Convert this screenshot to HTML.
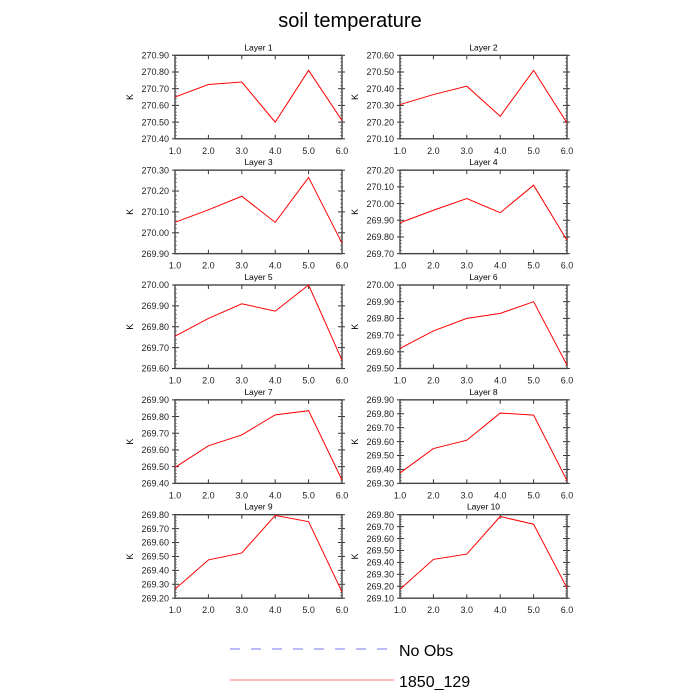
<!DOCTYPE html>
<html><head><meta charset="utf-8"><style>
html,body{margin:0;padding:0;background:#fff;}
svg{display:block;font-family:"Liberation Sans",sans-serif;}
</style></head><body>
<svg id="chart" width="700" height="700" viewBox="0 0 700 700">
<text x="350" y="27" text-anchor="middle" font-size="20" fill="#000">soil temperature</text>
<g>
<line x1="230" y1="649" x2="388" y2="649" stroke="#7777ee" stroke-width="1" stroke-dasharray="10,11"/>
<text x="399" y="656" font-size="16">No Obs</text>
<line x1="230" y1="680" x2="394" y2="680" stroke="#ff7777" stroke-width="1"/>
<text x="399" y="687" font-size="16">1850_129</text>
</g>
</svg>
<script>
const categories = [1,2,3,4,5,6];
const xTickLabels = ["1.0","2.0","3.0","4.0","5.0","6.0"];
const layerNames = ["Layer 1","Layer 2","Layer 3","Layer 4","Layer 5","Layer 6","Layer 7","Layer 8","Layer 9","Layer 10"];
const yMins = [270.40,270.10,269.90,269.70,269.60,269.50,269.40,269.30,269.20,269.10];
const yMaxs = [270.90,270.60,270.30,270.20,270.00,270.00,269.90,269.90,269.80,269.80];
const layer1 = [270.65,270.725,270.74,270.50,270.81,270.51];
const layer2 = [270.305,270.365,270.415,270.235,270.51,270.195];
const layer3 = [270.05,270.11,270.175,270.05,270.265,269.95];
const layer4 = [269.885,269.96,270.03,269.945,270.11,269.78];
const layer5 = [269.755,269.84,269.91,269.875,270.00,269.64];
const layer6 = [269.62,269.725,269.80,269.83,269.90,269.52];
const layer7 = [269.495,269.625,269.69,269.81,269.835,269.42];
const layer8 = [269.375,269.55,269.61,269.805,269.79,269.32];
const layer9 = [269.265,269.475,269.525,269.795,269.75,269.245];
const layer10 = [269.175,269.425,269.47,269.785,269.72,269.185];
const series = [layer1,layer2,layer3,layer4,layer5,layer6,layer7,layer8,layer9,layer10];

const NS="http://www.w3.org/2000/svg";
const svg=document.getElementById('chart');
function mk(tag,attrs,parent){const e=document.createElementNS(NS,tag);for(const k in attrs)e.setAttribute(k,attrs[k]);parent.appendChild(e);return e;}
const W=167, H=83.5;
for(let i=0;i<10;i++){
  const col=i%2,row=Math.floor(i/2);
  const x0=col?400:175, y0=55.3+row*114.85;
  const g=mk('g',{},svg);
  
  
  const xs=v=>x0+(v-1)/5*W;
  const ys=v=>y0+H-(v-yMins[i])/(yMaxs[i]-yMins[i])*H;
  const t=mk('text',{x:x0+W/2,y:y0-5,'text-anchor':'middle','font-size':'8.5'},g);
  t.textContent=layerNames[i];
  
  
  const k=mk('text',{x:0,y:0,'text-anchor':'middle','font-size':'9',transform:`translate(${x0-42},${y0+H/2}) rotate(-90)`},g);
  k.textContent='K';
  
  
  const nMaj=Math.round((yMaxs[i]-yMins[i])/0.1);
  for(let j=0;j<=nMaj*5;j++){
    const v=yMins[i]+j*0.02, y=ys(v);
    if(j%5===0){
      mk('line',{x1:x0-3,y1:y,x2:x0+4,y2:y,stroke:'#333','stroke-width':1},g);
      mk('line',{x1:x0+W-4,y1:y,x2:x0+W+3,y2:y,stroke:'#333','stroke-width':1},g);
      const lb=mk('text',{x:x0-6,y:y+3.2,'text-anchor':'end','font-size':'9',fill:'#222'},g);
      lb.textContent=(yMins[i]+j/5*0.1).toFixed(2);
      
      
    } else {
      mk('line',{x1:x0,y1:y,x2:x0+2,y2:y,stroke:'#555','stroke-width':0.6},g);
      mk('line',{x1:x0+W-2,y1:y,x2:x0+W,y2:y,stroke:'#555','stroke-width':0.6},g);
    }
  }
  categories.forEach((c,j)=>{
    const x=xs(c);
    mk('line',{x1:x,y1:y0,x2:x,y2:y0+4,stroke:'#333','stroke-width':1},g);
    mk('line',{x1:x,y1:y0+H-4,x2:x,y2:y0+H,stroke:'#333','stroke-width':1},g);
    const lb=mk('text',{x:x,y:y0+H+15,'text-anchor':'middle','font-size':'9',fill:'#222'},g);
    lb.textContent=xTickLabels[j];
    
    
  });
  const fr=mk('rect',{x:x0,y:y0,width:W,height:H,fill:'none',stroke:'#444','stroke-width':1.4},g);
  
  
  const pts=series[i].map((v,j)=>xs(categories[j]).toFixed(2)+','+ys(v).toFixed(2)).join(' ');
  const pl=mk('polyline',{points:pts,fill:'none',stroke:'#ff0000','stroke-width':1},g);
  
  
}
</script>
</body></html>
